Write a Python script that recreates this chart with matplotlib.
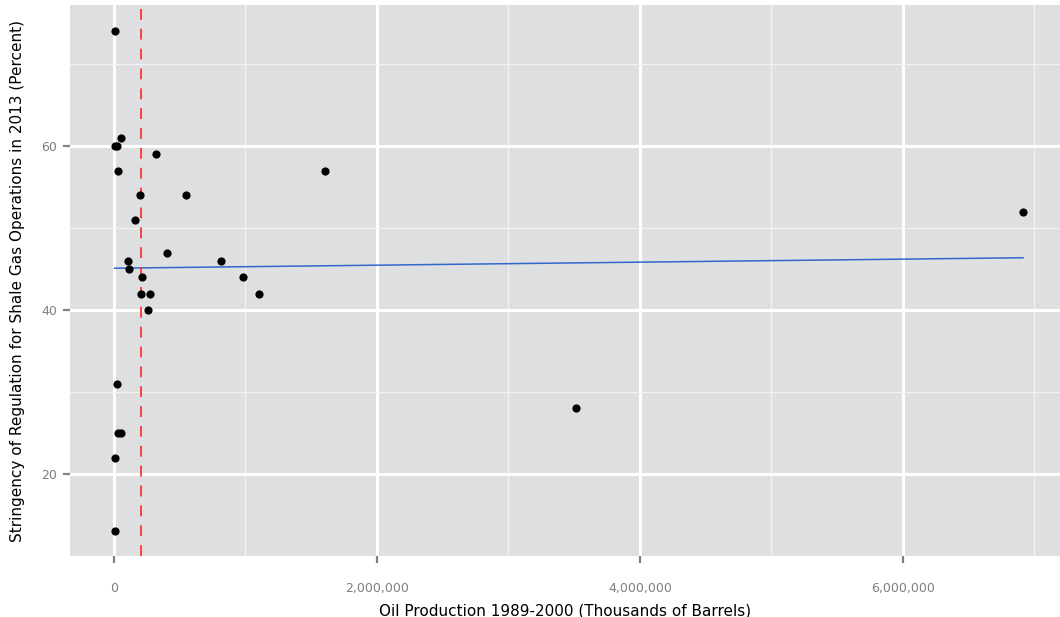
import numpy as np
import matplotlib
matplotlib.use("Agg")
import matplotlib.pyplot as plt
from matplotlib.ticker import FuncFormatter, MultipleLocator

# Data
oil_production = [5000, 55500, 5000, 23000, 322000, 30000, 200000, 545000, 162000,
                  403000, 104000, 816000, 116000, 211000, 983000, 203000, 274000,
                  1103000, 258000, 1602000, 20000, 33000, 51000, 10000, 5000,
                  3513000, 6913000]
stringency = [74, 61, 60, 60, 59, 57, 54, 54, 51,
              47, 46, 46, 45, 44, 44, 42, 42,
              42, 40, 57, 31, 25, 25, 22, 13,
              28, 52]
threshold = 203000
x_ticks = [0, 2000000, 4000000, 6000000]
y_ticks = [20, 40, 60]

x = np.array(oil_production, dtype=float)
y = np.array(stringency, dtype=float)

fig = plt.figure(figsize=(10.6, 6.17), dpi=100)
ax = fig.add_axes([70/1060, 61/617, 990/1060, 551/617])
ax.set_facecolor("#E5E5E5")
ax.set_facecolor("#DEDFE0")

ax.set_xlim(-334600, 7194000)
ax.set_ylim(10.0, 77.2)

ax.set_xticks(x_ticks)
ax.set_yticks(y_ticks)
ax.xaxis.set_minor_locator(MultipleLocator(1000000))
ax.yaxis.set_minor_locator(MultipleLocator(10))
ax.grid(which="major", color="white", linewidth=2.2)
ax.grid(which="minor", color="#F2F2F2", linewidth=0.9)
ax.set_axisbelow(True)
for s in ax.spines.values():
    s.set_visible(False)

ax.xaxis.set_major_formatter(FuncFormatter(lambda v, p: f"{int(v):,}"))
ax.tick_params(axis="both", which="major", length=5, width=1.6, color="#808080",
               labelcolor="#7F7F7F", labelsize=9, pad=4)
ax.tick_params(axis="both", which="minor", length=0)
ax.tick_params(axis="x", pad=14)

# regression line
b1, b0 = np.polyfit(x, y, 1)
xs = np.array([x.min(), x.max()])
ax.plot(xs, b0 + b1 * xs, color="#3366CC", linewidth=1.1, zorder=2)

ax.axvline(threshold, color="#FF3333", linestyle=(0, (6, 5)), linewidth=1.3, zorder=2)

ax.scatter(x, y, s=24, color="black", zorder=3)

ax.set_xlabel("Oil Production 1989-2000 (Thousands of Barrels)", fontsize=11, labelpad=6)
ax.set_ylabel("Stringency of Regulation for Shale Gas Operations in 2013 (Percent)",
              fontsize=11, labelpad=12)

fig.savefig("out.png", dpi=100, facecolor="white")
